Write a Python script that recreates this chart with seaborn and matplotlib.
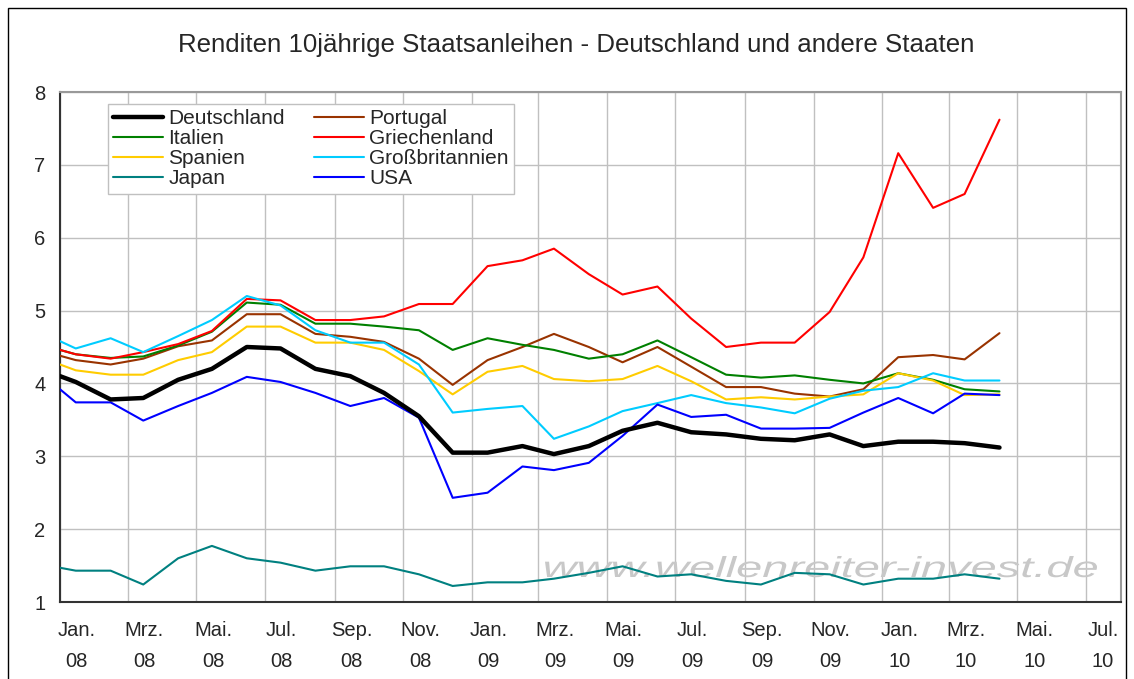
import pandas as pd
import numpy as np
import matplotlib
matplotlib.use('Agg')
import matplotlib.pyplot as plt
import matplotlib.dates as mdates
from matplotlib.ticker import FuncFormatter, MultipleLocator
from matplotlib.textpath import TextPath
from matplotlib.patches import PathPatch, Rectangle
from matplotlib.font_manager import FontProperties
from matplotlib.transforms import Affine2D, IdentityTransform
import seaborn as sns

# first quote at the start of January, then one value per month (mid-month)
dates = pd.DatetimeIndex(['2008-01-01']).append(
    pd.date_range('2008-01-01', periods=28, freq='MS') + pd.Timedelta(days=14))

deutschland = [4.10, 4.02, 3.78, 3.80, 4.05, 4.20, 4.50, 4.48, 4.20, 4.10, 3.87, 3.55,
               3.05, 3.05, 3.14, 3.03, 3.14, 3.35, 3.46, 3.33, 3.30, 3.24, 3.22, 3.30,
               3.14, 3.20, 3.20, 3.18, 3.12]
portugal = [4.38, 4.32, 4.26, 4.34, 4.51, 4.59, 4.95, 4.95, 4.68, 4.64, 4.57, 4.34,
            3.98, 4.32, 4.50, 4.68, 4.50, 4.29, 4.50, 4.23, 3.95, 3.95, 3.86, 3.82,
            3.92, 4.36, 4.39, 4.33, 4.69]
italien = [4.46, 4.40, 4.35, 4.37, 4.52, 4.71, 5.11, 5.08, 4.82, 4.82, 4.78, 4.73,
           4.46, 4.62, 4.53, 4.46, 4.34, 4.40, 4.59, 4.36, 4.12, 4.08, 4.11, 4.05,
           4.00, 4.14, 4.05, 3.92, 3.89]
griechenland = [4.46, 4.40, 4.34, 4.43, 4.54, 4.72, 5.16, 5.14, 4.87, 4.87, 4.92, 5.09,
                5.09, 5.61, 5.69, 5.85, 5.50, 5.22, 5.33, 4.89, 4.50, 4.56, 4.56, 4.98,
                5.73, 7.16, 6.41, 6.60, 7.62]
spanien = [4.26, 4.18, 4.12, 4.12, 4.32, 4.43, 4.78, 4.78, 4.56, 4.56, 4.46, 4.17,
           3.85, 4.16, 4.24, 4.06, 4.03, 4.06, 4.24, 4.03, 3.78, 3.81, 3.78, 3.82,
           3.85, 4.14, 4.04, 3.84, 3.85]
grossbritannien = [4.58, 4.48, 4.62, 4.43, 4.65, 4.87, 5.20, 5.07, 4.73, 4.56, 4.56, 4.26,
                   3.60, 3.65, 3.69, 3.24, 3.41, 3.62, 3.73, 3.84, 3.73, 3.67, 3.59, 3.79,
                   3.90, 3.95, 4.14, 4.04, 4.04]
japan = [1.47, 1.43, 1.43, 1.24, 1.60, 1.77, 1.60, 1.54, 1.43, 1.49, 1.49, 1.38,
         1.22, 1.27, 1.27, 1.32, 1.40, 1.49, 1.35, 1.38, 1.29, 1.24, 1.40, 1.38,
         1.24, 1.32, 1.32, 1.38, 1.32]
usa = [3.92, 3.74, 3.74, 3.49, 3.69, 3.87, 4.09, 4.02, 3.87, 3.69, 3.80, 3.53,
       2.43, 2.50, 2.86, 2.81, 2.91, 3.28, 3.71, 3.54, 3.57, 3.38, 3.38, 3.39,
       3.60, 3.80, 3.59, 3.86, 3.84]

series = {
    'Deutschland': deutschland,
    'Portugal': portugal,
    'Italien': italien,
    'Griechenland': griechenland,
    'Spanien': spanien,
    'Großbritannien': grossbritannien,
    'Japan': japan,
    'USA': usa,
}
colors = {
    'Deutschland': '#000000',
    'Portugal': '#993300',
    'Italien': '#008000',
    'Griechenland': '#FF0000',
    'Spanien': '#FFCC00',
    'Großbritannien': '#00CCFF',
    'Japan': '#008080',
    'USA': '#0000FF',
}
draw_order = ['Portugal', 'Italien', 'Griechenland', 'Spanien', 'Großbritannien',
              'Japan', 'USA', 'Deutschland']
legend_order = ['Deutschland', 'Italien', 'Spanien', 'Japan',
                'Portugal', 'Griechenland', 'Großbritannien', 'USA']
month_labels = {1: 'Jan.', 3: 'Mrz.', 5: 'Mai.', 7: 'Jul.', 9: 'Sep.', 11: 'Nov.'}

title = 'Renditen 10jährige Staatsanleihen - Deutschland und andere Staaten'
watermark = 'www.wellenreiter-invest.de'

sns.set_style('white')
plt.rcParams['font.family'] = ['Liberation Sans', 'DejaVu Sans']

W, H = 1134, 679
fig = plt.figure(figsize=(W / 100, H / 100), dpi=100)
ax = fig.add_axes([60 / W, 77 / H, 1061 / W, 510 / H])

handles = {}
for name in draw_order:
    sns.lineplot(x=dates, y=series[name], ax=ax, color=colors[name],
                 lw=3.2 if name == 'Deutschland' else 1.5, legend=False, zorder=3)
    handles[name] = ax.get_lines()[-1]

ax.set_xlim(pd.Timestamp('2008-01-01'), pd.Timestamp('2010-08-01'))
ax.set_ylim(1, 8)
ax.yaxis.set_major_locator(MultipleLocator(1))
ax.xaxis.set_major_locator(mdates.MonthLocator(bymonth=[1, 3, 5, 7, 9, 11]))
ax.xaxis.set_major_formatter(FuncFormatter(lambda v, p: ''))
ax.xaxis.set_minor_locator(mdates.MonthLocator(bymonth=[1, 3, 5, 7, 9, 11], bymonthday=16))
ax.xaxis.set_minor_formatter(FuncFormatter(
    lambda v, p: f"{month_labels[mdates.num2date(v).month]}\n{mdates.num2date(v):%y}"))
ax.set_xlabel('')
ax.set_ylabel('')

ax.grid(True, which='major', color='#c0c0c0', lw=1)
ax.grid(False, which='minor')
ax.tick_params(axis='both', which='major', direction='out', length=4.5, width=1,
               color='#333333', labelsize=14.5, pad=6)
ax.tick_params(axis='x', which='minor', length=0, labelsize=14.5, pad=14)
for lbl in ax.xaxis.get_minorticklabels():
    lbl.set_linespacing(1.75)
for side in ['left', 'bottom']:
    ax.spines[side].set_color('#333333')
    ax.spines[side].set_linewidth(1.5)
for side in ['top', 'right']:
    ax.spines[side].set_color('#999999')
    ax.spines[side].set_linewidth(1.5)

leg = ax.legend([handles[n] for n in legend_order], legend_order, ncol=2,
                loc='upper left', bbox_to_anchor=(108 / W, 1 - 104 / H),
                bbox_transform=fig.transFigure, borderaxespad=0, fontsize=15,
                handlelength=2.4, handletextpad=0.25, columnspacing=1.4,
                labelspacing=0.05, borderpad=0.25, fancybox=False,
                framealpha=1, edgecolor='#c0c0c0')
leg.get_frame().set_linewidth(1)

fig.text(576 / W, 1 - 45 / H, title, ha='center', va='center', fontsize=18.6)

# watermark, drawn behind the lines and stretched wide like the original
tp = TextPath((0, 0), watermark, size=29,
              prop=FontProperties(family='Liberation Sans', style='italic'))
ext = tp.get_extents()
sx = 552 / ext.width
tr = Affine2D().translate(-ext.x0, 0).scale(sx, 1).translate(545, H - 577)
ax.add_patch(PathPatch(tr.transform_path(tp), transform=IdentityTransform(),
                       facecolor='#c8c8c8', edgecolor='none', zorder=1.5,
                       clip_on=False))

fig.add_artist(Rectangle((8 / W, -0.01), 1 - 16 / W, 1 - 8 / H + 0.01,
                         transform=fig.transFigure, fill=False,
                         edgecolor='#000000', lw=1))

fig.savefig('out.png', dpi=100)
